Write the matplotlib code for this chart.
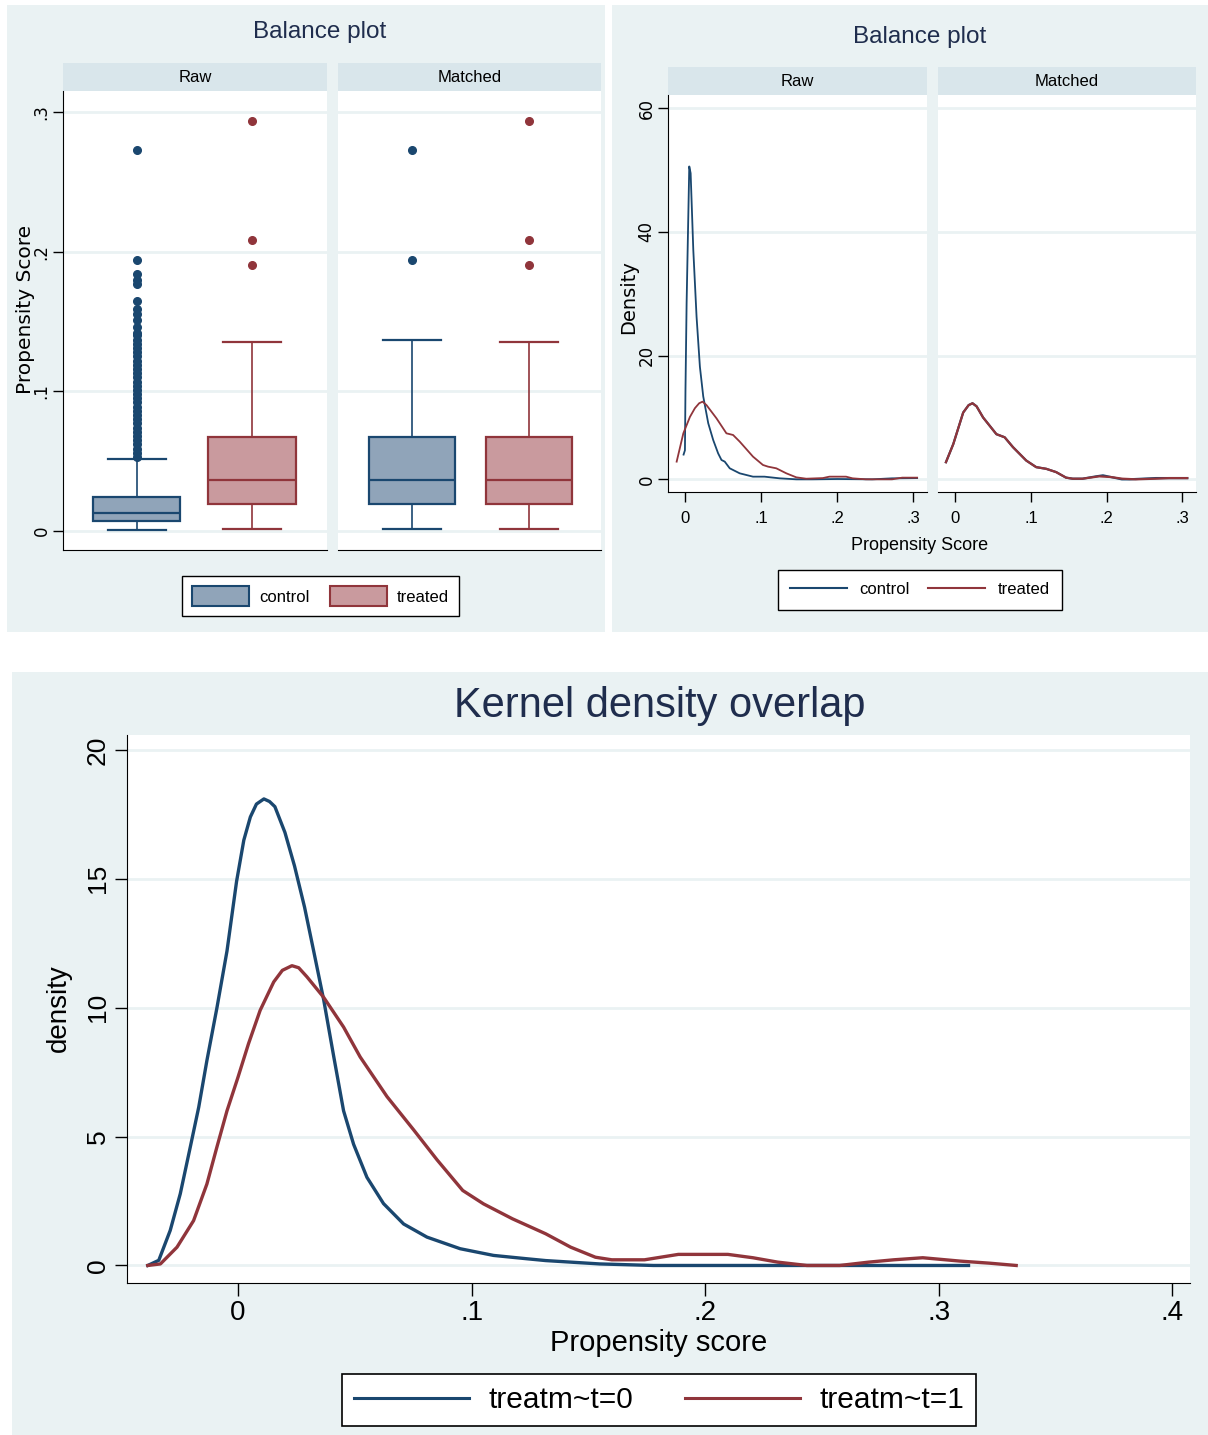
import matplotlib
matplotlib.use('Agg')
import matplotlib.pyplot as plt
from matplotlib.patches import Rectangle, Patch
from matplotlib.lines import Line2D

# ---- data ----
# box plots (propensity score by group), Raw and Matched
raw_ctrl_box = dict(q1=0.007, med=0.0126, q3=0.0246, whislo=0.0006, whishi=0.0518)
raw_ctrl_out = [0.053, 0.056, 0.059, 0.062, 0.065, 0.068, 0.071, 0.074, 0.077, 0.080,
                0.083, 0.086, 0.089, 0.092, 0.095, 0.098, 0.101, 0.104, 0.107, 0.110,
                0.113, 0.116, 0.119, 0.122, 0.125, 0.128, 0.131, 0.134, 0.137, 0.140,
                0.142, 0.146, 0.151, 0.155, 0.159, 0.165, 0.177, 0.180, 0.184, 0.194, 0.273]
trt_box = dict(q1=0.0196, med=0.0363, q3=0.067, whislo=0.0015, whishi=0.1355)
trt_out = [0.1903, 0.2084, 0.2936]
mat_ctrl_box = dict(q1=0.0196, med=0.0363, q3=0.067, whislo=0.0015, whishi=0.1364)
mat_ctrl_out = [0.1937, 0.273]

# density curves, top right panels
raw_ctrl_x = [-0.0025, -0.0007, 0.0, 0.0015, 0.005, 0.0068, 0.0103, 0.0146, 0.019, 0.0234,
              0.03, 0.0365, 0.043, 0.0474, 0.0517, 0.0583, 0.0714, 0.0889, 0.104, 0.124,
              0.146, 0.167, 0.2, 0.246, 0.272, 0.305]
raw_ctrl_y = [4.0, 4.7, 14.4, 28.5, 50.6, 49.5, 37.1, 26.3, 18.2, 13.4,
              9.06, 6.36, 4.2, 3.13, 2.86, 1.78, 0.97, 0.43, 0.43, 0.16,
              0.0, 0.0, 0.05, 0.0, 0.16, 0.2]
raw_trt_x = [-0.0116, -0.0028, 0.0059, 0.0124, 0.018, 0.0225, 0.0277, 0.0408, 0.0539, 0.0627,
             0.0714, 0.0889, 0.102, 0.1087, 0.1196, 0.1328, 0.1459, 0.159, 0.1808, 0.1895,
             0.2114, 0.22, 0.2374, 0.272, 0.2854, 0.305]
raw_trt_y = [2.86, 7.44, 10.1, 11.5, 12.3, 12.56, 12.0, 9.87, 7.44, 7.17,
             6.1, 3.67, 2.32, 2.05, 1.78, 0.97, 0.32, 0.1, 0.2, 0.43,
             0.43, 0.16, 0.0, 0.0, 0.27, 0.27]
mat_trt_x = [-0.0125, -0.0028, 0.0103, 0.0175, 0.0226, 0.028, 0.0366, 0.0542, 0.0651, 0.0761,
             0.0936, 0.1068, 0.12, 0.1331, 0.1463, 0.155, 0.168, 0.19, 0.2053, 0.2208,
             0.2383, 0.2646, 0.2822, 0.3064]
mat_trt_y = [2.77, 5.7, 10.8, 12.0, 12.3, 11.8, 10.0, 7.3, 6.8, 5.2,
             3.04, 1.97, 1.7, 1.17, 0.27, 0.1, 0.1, 0.48, 0.37, 0.1,
             0.0, 0.1, 0.2, 0.2]
mat_ctrl_x = [-0.0125, -0.0028, 0.0103, 0.0175, 0.0226, 0.028, 0.0366, 0.0542, 0.0651, 0.0761,
              0.0936, 0.1068, 0.12, 0.1331, 0.1463, 0.155, 0.168, 0.186, 0.195, 0.22,
              0.23, 0.265, 0.28, 0.3064]
mat_ctrl_y = [2.77, 5.7, 10.8, 12.0, 12.3, 11.8, 10.0, 7.3, 6.8, 5.2,
              3.04, 1.97, 1.7, 1.17, 0.27, 0.1, 0.1, 0.48, 0.64, 0.0,
              0.0, 0.2, 0.2, 0.2]

# kernel density overlap, bottom panel
kd0_x = [-0.0386, -0.0339, -0.029, -0.0247, -0.0204, -0.0168, -0.0133, -0.009, -0.0047, -0.0006,
         0.0025, 0.0053, 0.0079, 0.0111, 0.0135, 0.0158, 0.0201, 0.0242, 0.0285, 0.0324,
         0.0367, 0.041, 0.0452, 0.0495, 0.0552, 0.0623, 0.0709, 0.0809, 0.0951, 0.1094,
         0.1237, 0.1317, 0.1548, 0.1778, 0.25, 0.3127]
kd0_y = [0.0, 0.2, 1.36, 2.78, 4.6, 6.14, 7.95, 10.0, 12.2, 14.9,
         16.5, 17.4, 17.9, 18.1, 18.0, 17.8, 16.8, 15.5, 13.9, 12.2,
         10.3, 8.1, 6.0, 4.7, 3.42, 2.4, 1.61, 1.1, 0.65, 0.39,
         0.26, 0.19, 0.06, 0.0, 0.0, 0.0]
kd1_x = [-0.0386, -0.0332, -0.0261, -0.019, -0.0133, -0.009, -0.0047, 0.0, 0.0045, 0.0095,
         0.0153, 0.019, 0.0231, 0.026, 0.0295, 0.0367, 0.0452, 0.0523, 0.0638, 0.0752,
         0.0852, 0.0962, 0.1051, 0.1175, 0.1317, 0.1424, 0.153, 0.16, 0.174, 0.1885,
         0.2097, 0.2204, 0.231, 0.2435, 0.2576, 0.27, 0.2807, 0.2931, 0.309, 0.3216, 0.3331]
kd1_y = [0.0, 0.06, 0.71, 1.74, 3.16, 4.6, 6.0, 7.3, 8.6, 9.9,
         11.0, 11.45, 11.63, 11.55, 11.2, 10.4, 9.25, 8.09, 6.55, 5.26,
         4.1, 2.91, 2.39, 1.81, 1.23, 0.71, 0.32, 0.22, 0.22, 0.43,
         0.43, 0.3, 0.13, 0.0, 0.0, 0.13, 0.22, 0.3, 0.17, 0.09, 0.0]

NAVY = '#1A476F'
MAROON = '#90353B'
NAVY_FILL = '#90A4B9'
MAROON_FILL = '#C99A9E'
BG = '#EAF2F3'
STRIP = '#D9E6EB'
GRID = '#EAF2F3'
TITLE = '#1F2D4D'
ARIAL = ['Liberation Sans', 'DejaVu Sans']
WIDE = ['DejaVu Sans']

W, H = 1208, 1435
fig = plt.figure(figsize=(W / 100, H / 100), dpi=100, facecolor='white')


def frac(x0, y0, x1, y1):
    return [x0 / W, 1 - y1 / H, (x1 - x0) / W, (y1 - y0) / H]


def bg(x0, y0, x1, y1):
    fig.patches.append(Rectangle((x0 / W, 1 - y1 / H), (x1 - x0) / W, (y1 - y0) / H,
                                 transform=fig.transFigure, facecolor=BG,
                                 edgecolor='none', zorder=-5))


def strip(x0, y0, x1, y1, label):
    a = fig.add_axes(frac(x0, y0, x1, y1))
    a.set_facecolor(STRIP)
    a.set_xticks([])
    a.set_yticks([])
    for s in a.spines.values():
        s.set_visible(False)
    a.text(0.5, 0.5, label, ha='center', va='center', fontsize=12, family=ARIAL)


def ftext(x, y, s, **kw):
    fig.text(x / W, 1 - y / H, s, **kw)


bg(7, 5, 605, 632)
bg(612, 5, 1208, 632)
bg(12, 672, 1208, 1435)

# ---------- top left: box plots ----------
ftext(320, 32, 'Balance plot', ha='center', va='center', fontsize=17.5, family=ARIAL, color=TITLE)
strip(63, 63, 327, 91, 'Raw')
strip(338, 63, 601, 91, 'Matched')


def draw_box(ax, stats, fliers, pos, edge, fill):
    st = dict(stats)
    st['fliers'] = fliers
    ax.bxp([st], positions=[pos], widths=0.33, patch_artist=True, capwidths=[0.22],
           boxprops=dict(facecolor=fill, edgecolor=edge, linewidth=1.6),
           medianprops=dict(color=edge, linewidth=1.6),
           whiskerprops=dict(color=edge, linewidth=1.2),
           capprops=dict(color=edge, linewidth=1.6),
           flierprops=dict(marker='o', markerfacecolor=edge, markeredgecolor=edge,
                           markersize=5.5, linestyle='none'))


box_axes = []
for (x0, x1) in [(63, 327), (338, 601)]:
    ax = fig.add_axes(frac(x0, 91, x1, 550))
    ax.set_ylim(-0.0136, 0.315)
    ax.set_yticks([0, 0.1, 0.2, 0.3])
    ax.grid(axis='y', color=GRID, linewidth=2)
    ax.set_axisbelow(True)
    for s in ['top', 'right']:
        ax.spines[s].set_visible(False)
    box_axes.append(ax)

draw_box(box_axes[0], raw_ctrl_box, raw_ctrl_out, 0.28, NAVY, NAVY_FILL)
draw_box(box_axes[0], trt_box, trt_out, 0.716, MAROON, MAROON_FILL)
draw_box(box_axes[1], mat_ctrl_box, mat_ctrl_out, 0.281, NAVY, NAVY_FILL)
draw_box(box_axes[1], trt_box, trt_out, 0.726, MAROON, MAROON_FILL)
for ax in box_axes:
    ax.set_xlim(0, 1)
    ax.set_xticks([])

ax = box_axes[0]
ax.set_yticks([0, 0.1, 0.2, 0.3])
ax.set_yticklabels(['0', '.1', '.2', '.3'], rotation=90, va='center', family=WIDE, fontsize=12)
ax.tick_params(axis='y', length=7, width=1, pad=2)
ax.set_ylabel('Propensity Score', family=WIDE, fontsize=14.5)
ax.yaxis.set_label_coords(-0.105, 0.525)
box_axes[1].spines['left'].set_visible(False)
box_axes[1].tick_params(axis='y', length=0, labelleft=False)

leg1 = fig.legend(handles=[Patch(facecolor=NAVY_FILL, edgecolor=NAVY, linewidth=1.5, label='control'),
                           Patch(facecolor=MAROON_FILL, edgecolor=MAROON, linewidth=1.5, label='treated')],
                  loc='center', bbox_to_anchor=(320.5 / W, 1 - 596 / H), ncol=2,
                  fancybox=False, edgecolor='black', framealpha=1, handlelength=3.45,
                  handleheight=1.5, handletextpad=0.6, columnspacing=1.2, borderpad=0.6,
                  prop={'family': ARIAL, 'size': 12})
leg1.get_frame().set_linewidth(1.0)

# ---------- top right: density by group ----------
ftext(920, 37, 'Balance plot', ha='center', va='center', fontsize=17.5, family=ARIAL, color=TITLE)
strip(668, 67, 927, 95, 'Raw')
strip(938, 67, 1196, 95, 'Matched')

dens_axes = []
for (x0, x1) in [(668, 927), (938, 1196)]:
    ax = fig.add_axes(frac(x0, 95, x1, 492))
    ax.set_xlim(-0.023, 0.318)
    ax.set_ylim(-2.05, 62.15)
    ax.set_yticks([0, 20, 40, 60])
    ax.set_xticks([0, 0.1, 0.2, 0.3])
    ax.set_xticklabels(['0', '.1', '.2', '.3'], family=ARIAL, fontsize=12)
    ax.tick_params(axis='x', length=7, width=1, pad=7)
    ax.grid(axis='y', color=GRID, linewidth=2)
    ax.set_axisbelow(True)
    for s in ['top', 'right']:
        ax.spines[s].set_visible(False)
    dens_axes.append(ax)

dens_axes[0].plot(raw_ctrl_x, raw_ctrl_y, color=NAVY, linewidth=1.3)
dens_axes[0].plot(raw_trt_x, raw_trt_y, color=MAROON, linewidth=1.3)
dens_axes[1].plot(mat_ctrl_x, mat_ctrl_y, color=NAVY, linewidth=1.6)
dens_axes[1].plot(mat_trt_x, mat_trt_y, color=MAROON, linewidth=1.6)

ax = dens_axes[0]
ax.set_yticklabels(['0', '20', '40', '60'], rotation=90, va='center', family=WIDE, fontsize=12)
ax.tick_params(axis='y', length=7, width=1, pad=2)
ax.set_ylabel('Density', family=WIDE, fontsize=14)
ax.yaxis.set_label_coords(-0.116, 0.491)
dens_axes[1].spines['left'].set_visible(False)
dens_axes[1].tick_params(axis='y', length=0, labelleft=False)
ftext(920, 546, 'Propensity Score', ha='center', va='center', fontsize=13, family=ARIAL)

leg2 = fig.legend(handles=[Line2D([], [], color=NAVY, linewidth=1.5, label='control'),
                           Line2D([], [], color=MAROON, linewidth=1.5, label='treated')],
                  loc='center', bbox_to_anchor=(920 / W, 1 - 589.5 / H), ncol=2,
                  fancybox=False, edgecolor='black', framealpha=1, handlelength=3.4,
                  handletextpad=0.75, columnspacing=1.1, borderpad=0.75,
                  prop={'family': ARIAL, 'size': 12})
leg2.get_frame().set_linewidth(1.0)

# ---------- bottom: kernel density overlap ----------
ftext(660, 706, 'Kernel density overlap', ha='center', va='center', fontsize=30,
      family=ARIAL, color=TITLE)
ax = fig.add_axes(frac(127, 735, 1190, 1283))
ax.set_xlim(-0.0475, 0.4075)
ax.set_ylim(-0.68, 20.58)
ax.plot(kd0_x, kd0_y, color=NAVY, linewidth=2.4)
ax.plot(kd1_x, kd1_y, color=MAROON, linewidth=2.4)
ax.set_yticks([0, 5, 10, 15, 20])
ax.set_yticklabels(['0', '5', '10', '15', '20'], rotation=90, va='center', family=ARIAL, fontsize=19)
ax.set_xticks([0, 0.1, 0.2, 0.3, 0.4])
ax.set_xticklabels(['0', '.1', '.2', '.3', '.4'], family=ARIAL, fontsize=20)
ax.tick_params(axis='both', length=9, width=1)
ax.grid(axis='y', color=GRID, linewidth=2)
ax.set_axisbelow(True)
for s in ['top', 'right']:
    ax.spines[s].set_visible(False)
ax.set_ylabel('density', family=ARIAL, fontsize=20)
ax.yaxis.set_label_coords(-0.0517, 0.502)
ax.set_xlabel('Propensity score', family=ARIAL, fontsize=21, labelpad=2)

leg3 = fig.legend(handles=[Line2D([], [], color=NAVY, linewidth=2.2, label='treatm~t=0'),
                           Line2D([], [], color=MAROON, linewidth=2.2, label='treatm~t=1')],
                  loc='center', bbox_to_anchor=(659 / W, 1 - 1400 / H), ncol=2,
                  fancybox=False, edgecolor='black', framealpha=1, handlelength=3.85,
                  handletextpad=0.64, columnspacing=1.75, borderpad=0.4,
                  prop={'family': ARIAL, 'size': 21.5})
leg3.get_frame().set_linewidth(1.2)

fig.savefig('out.png', dpi=100, facecolor='white')
